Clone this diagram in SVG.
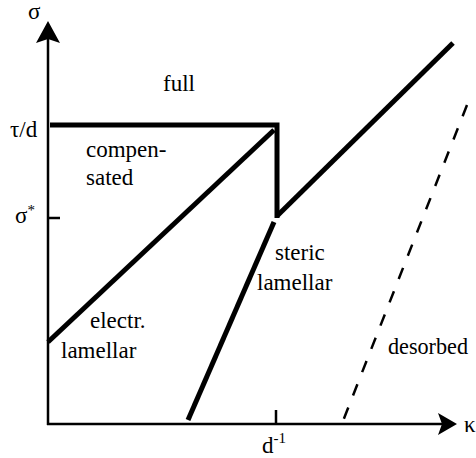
<svg xmlns="http://www.w3.org/2000/svg" width="476" height="458" viewBox="0 0 476 458">
<style>
.axis{stroke:#000;stroke-width:2.5;fill:none}
.thick{stroke:#000;stroke-width:5;fill:none}
.dash{stroke:#000;stroke-width:2.5;fill:none;stroke-dasharray:12 13}
.t{font-family:"Liberation Serif","Times New Roman",serif;font-size:23px;fill:#000}
</style>
<rect width="476" height="458" fill="#fff"/>
<g id="connectors">
<line class="axis" x1="48" y1="425" x2="48" y2="38"/>
<path d="M48 21 L60 43 L48 39 L36 43 Z" fill="#000"/>
<line class="axis" x1="47" y1="424" x2="442" y2="424"/>
<path d="M457 424 L438 413 L442 424 L438 435 Z" fill="#000"/>
<line class="axis" x1="48" y1="218" x2="60" y2="218"/>
<line class="axis" x1="276" y1="410" x2="276" y2="424"/>
<polyline class="thick" points="50,125 277,125 277,218"/>
<line class="thick" x1="48" y1="342" x2="274" y2="130"/>
<line class="thick" x1="188" y1="420" x2="274" y2="222"/>
<line class="thick" x1="277" y1="216" x2="453" y2="43"/>
<line class="dash" x1="467" y1="105" x2="343" y2="421"/>
</g>
<g id="labels" class="t">
<text x="28" y="19">σ</text>
<text x="464" y="432">κ</text>
<text x="10" y="137">τ/d</text>
<text x="15" y="223">σ<tspan font-size="15" dy="-8">*</tspan></text>
<text x="262" y="453">d<tspan font-size="15" dy="-10">-1</tspan></text>
<text x="163" y="91">full</text>
<text x="86" y="157">compen-</text>
<text x="86" y="185">sated</text>
<text x="90" y="328">electr.</text>
<text x="61" y="358">lamellar</text>
<text x="275" y="260">steric</text>
<text x="257" y="290">lamellar</text>
<text x="388" y="354" textLength="80" lengthAdjust="spacingAndGlyphs">desorbed</text>
</g>
</svg>
